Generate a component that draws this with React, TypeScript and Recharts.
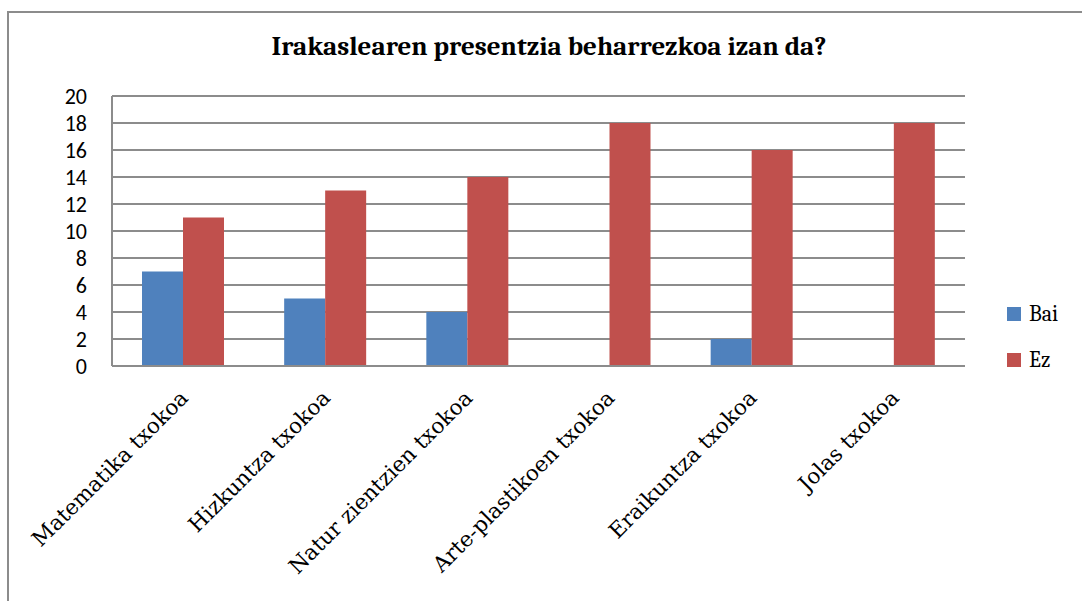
import React from "react";
import { BarChart, Bar, XAxis, YAxis, CartesianGrid } from "recharts";

const categories = [
  "Matematika txokoa",
  "Hizkuntza txokoa",
  "Natur zientzien txokoa",
  "Arte-plastikoen txokoa",
  "Eraikuntza txokoa",
  "Jolas txokoa",
];
const baiValues = [7, 5, 4, 0, 2, 0];
const ezValues = [11, 13, 14, 18, 16, 18];
const yTicks = [0, 2, 4, 6, 8, 10, 12, 14, 16, 18, 20];
const seriesNames = ["Bai", "Ez"];
const title = "Irakaslearen presentzia beharrezkoa izan da?";

const data = categories.map((c, i) => ({ name: c, Bai: baiValues[i], Ez: ezValues[i] }));

const BLUE = "#4F81BD";
const RED = "#C0504D";
const SERIF = "Cambria, 'Liberation Serif', 'DejaVu Serif', serif";
const WIDE_SERIF = "'DejaVu Serif', serif";
const SANS = "Calibri, Lato, 'Liberation Sans', sans-serif";

const XTick = (props: any) => {
  const { x, y, payload } = props;
  return (
    <g transform={`translate(${x + 1},${y + 20})`}>
      <text
        textAnchor="end"
        transform="rotate(-45)"
        fontFamily={WIDE_SERIF}
        fontSize={21.5}
        fill="#000"
        dominantBaseline="central"
      >
        {payload.value}
      </text>
    </g>
  );
};

export default function App() {
  return (
    <div style={{ position: "absolute", left: 0, top: 0, width: 1082, height: 601, overflow: "hidden", background: "#fff" }}>
      <div
        style={{
          position: "absolute",
          left: 7,
          top: 11,
          width: 1200,
          height: 800,
          border: "2px solid #8c8c8c",
          boxSizing: "border-box",
        }}
      />
      <div
        style={{
          position: "absolute",
          left: 0,
          width: 1098,
          top: 30,
          textAlign: "center",
          fontFamily: SERIF,
          fontWeight: "bold",
          fontSize: 27,
          color: "#000",
          lineHeight: "34px",
        }}
      >
        {title}
      </div>
      <div style={{ position: "absolute", left: 0, top: 0 }}>
        <BarChart
          width={1082}
          height={601}
          data={data}
          margin={{ top: 96, right: 117, bottom: 0, left: 0 }}
          barGap={0}
          barCategoryGap={30}
        >
          <CartesianGrid vertical={false} stroke="#8c8c8c" strokeWidth={2} />
          <XAxis
            dataKey="name"
            interval={0}
            tickLine={false}
            axisLine={{ stroke: "#8c8c8c", strokeWidth: 2 }}
            tick={<XTick />}
            height={235}
          />
          <YAxis
            width={112}
            domain={[0, 20]}
            ticks={yTicks}
            interval={0}
            tickLine={false}
            tickSize={0}
            tickMargin={25}
            axisLine={{ stroke: "#8c8c8c", strokeWidth: 2 }}
            tick={{ fontFamily: SANS, fontSize: 22, fill: "#000" }}
          />
          <Bar dataKey="Bai" fill={BLUE} isAnimationActive={false} />
          <Bar dataKey="Ez" fill={RED} isAnimationActive={false} />
        </BarChart>
      </div>
      <div style={{ position: "absolute", left: 1007, top: 291, fontFamily: SERIF, fontSize: 22, color: "#000" }}>
        {seriesNames.map((n, i) => (
          <div key={n} style={{ display: "flex", alignItems: "center", height: 46 }}>
            <span
              style={{
                display: "inline-block",
                width: 14,
                height: 14,
                background: i === 0 ? BLUE : RED,
                marginRight: 8,
              }}
            />
            <span>{n}</span>
          </div>
        ))}
      </div>
    </div>
  );
}
